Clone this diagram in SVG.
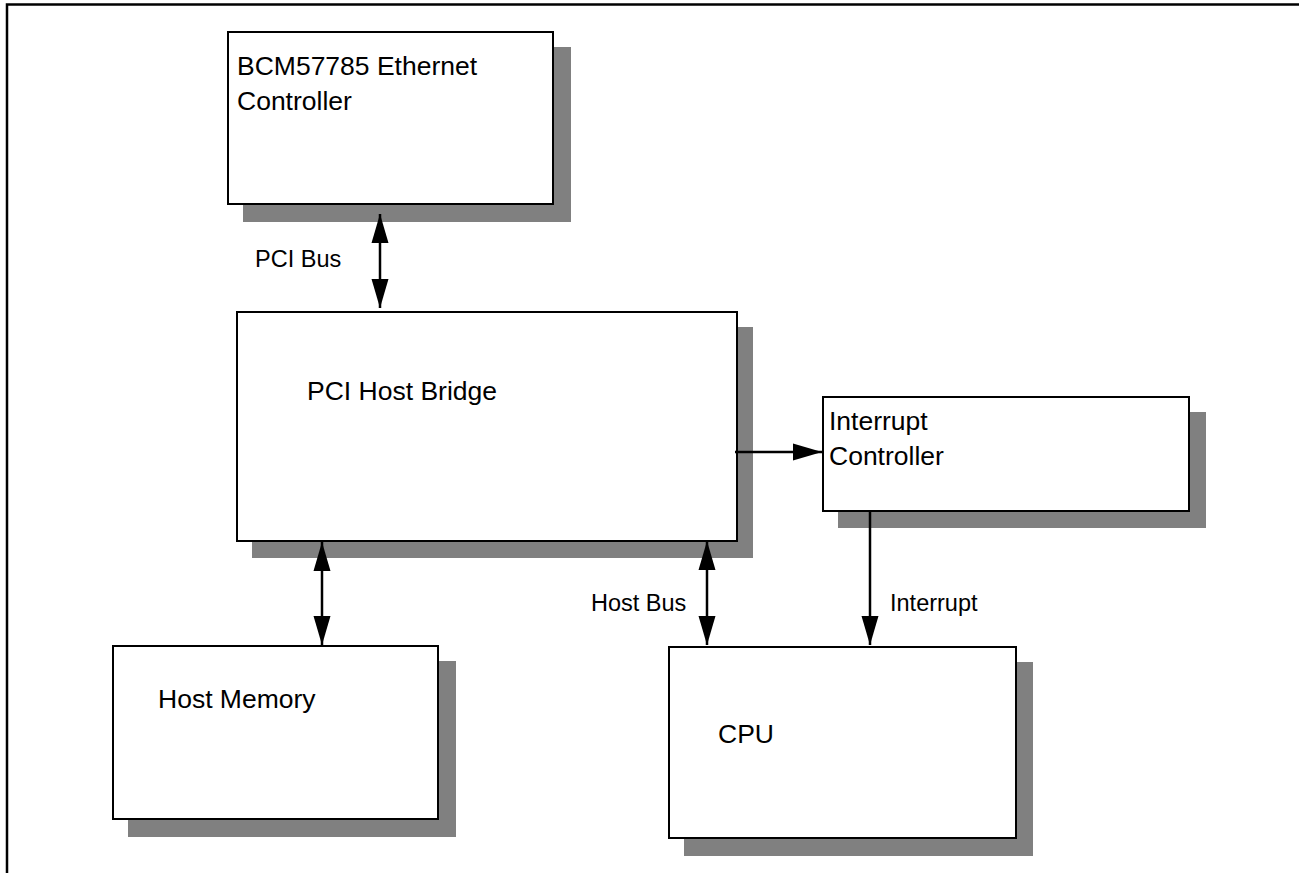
<svg xmlns="http://www.w3.org/2000/svg" width="1299" height="873" viewBox="0 0 1299 873">
<style>
.shadow{fill:#808080;stroke:none}
.box{fill:#ffffff;stroke:#000000;stroke-width:2}
.t{font-family:"Liberation Sans",Arial,sans-serif;font-size:26.5px;fill:#000000}
.lbl{font-family:"Liberation Sans",Arial,sans-serif;font-size:23.5px;fill:#000000}
.conn{stroke:#000000;stroke-width:2.5;fill:none}
</style>
<defs>
<marker id="ah" markerUnits="userSpaceOnUse" markerWidth="30" markerHeight="18" refX="29" refY="8.5" orient="auto-start-reverse" viewBox="0 0 30 17">
<path d="M0,0 L29,8.5 L0,17 z" fill="#000000"/>
</marker>
</defs>
<rect width="1299" height="873" fill="#ffffff"/>
<path d="M7,873 V4.5 H1299" fill="none" stroke="#000000" stroke-width="2.5"/>
<g id="bcm">
<rect class="shadow" x="243" y="47" width="328" height="175"/>
<rect class="box" x="228" y="32" width="325" height="172"/>
<text class="t" x="237" y="75">BCM57785 Ethernet</text>
<text class="t" x="237" y="110">Controller</text>
</g>
<g id="bridge">
<rect class="shadow" x="252" y="327" width="501" height="231"/>
<rect class="box" x="237" y="312" width="500" height="229"/>
<text class="t" x="307" y="400">PCI Host Bridge</text>
</g>
<g id="intctrl">
<rect class="shadow" x="838" y="412" width="368" height="116"/>
<rect class="box" x="823" y="397" width="366" height="114"/>
<text class="t" x="829" y="430">Interrupt</text>
<text class="t" x="829" y="465">Controller</text>
</g>
<g id="memory">
<rect class="shadow" x="128" y="661" width="328" height="176"/>
<rect class="box" x="113" y="646" width="325" height="173"/>
<text class="t" x="158" y="708">Host Memory</text>
</g>
<g id="cpu">
<rect class="shadow" x="684" y="662" width="349" height="194"/>
<rect class="box" x="669" y="647" width="347" height="191"/>
<text class="t" x="718" y="743">CPU</text>
</g>
<g id="connectors">
<line class="conn" x1="380" y1="214" x2="380" y2="308" marker-start="url(#ah)" marker-end="url(#ah)"/>
<line class="conn" x1="735" y1="452" x2="822" y2="452" marker-end="url(#ah)"/>
<line class="conn" x1="322" y1="542" x2="322" y2="645" marker-start="url(#ah)" marker-end="url(#ah)"/>
<line class="conn" x1="707" y1="541" x2="707" y2="645" marker-start="url(#ah)" marker-end="url(#ah)"/>
<line class="conn" x1="870" y1="511" x2="870" y2="645" marker-end="url(#ah)"/>
<text class="lbl" x="255" y="267">PCI Bus</text>
<text class="lbl" x="591" y="611">Host Bus</text>
<text class="lbl" x="890" y="611">Interrupt</text>
</g>
</svg>
